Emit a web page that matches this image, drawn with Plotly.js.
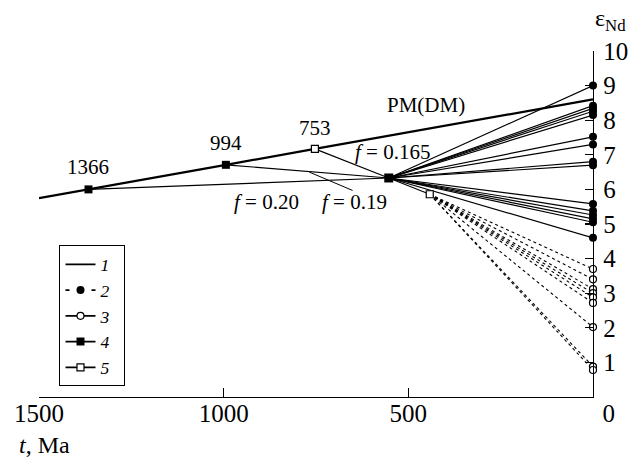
<!DOCTYPE html>
<html>
<head>
<meta charset="utf-8">
<script src="https://cdn.plot.ly/plotly-3.0.1.min.js"></script>
<style>
html,body{margin:0;padding:0;background:#fff;}
#chart{width:638px;height:457px;}
#chart svg text{font-family:"Liberation Serif","Times New Roman",Tinos,"DejaVu Serif",serif !important;}
</style>
</head>
<body>
<div id="chart"></div>
<script>
// PM(DM) evolution line (t in Ma, eps Nd)
const pmT = [1500, 1366, 994, 753, 0];
const pmE = [5.75, 6.00, 6.71, 7.17, 8.60];
// dated points on the PM line
const ageT = [1366, 994, 753];
const ageE = [6.00, 6.71, 7.17];
const ageLabels = ['1366', '994', '753'];
// convergence node (type 4) and type 5 node
const nodeT = [553];
const nodeE = [6.33];
const node5T = [442];
const node5E = [5.86];
// present-day values (t = 0)
const solidEnd = [9.00, 8.42, 8.34, 8.26, 8.15, 7.52, 7.30, 6.80, 6.70, 5.58, 5.38, 5.26, 5.15, 5.05, 4.60];
const dashedEnd = [3.70, 3.40, 3.12, 3.00, 2.88, 2.72, 2.02, 0.88, 0.78];
// leader for f = 0.19
const leaderT = [768, 651];
const leaderE = [6.50, 5.97];
// axis ticks
const xTicks = [1500, 1000, 500, 0];
const xTickText = ['1500', '1000', '500', '\u00a0\u00a0\u00a0\u00a0\u00a00'];
const yTicks = [1, 2, 3, 4, 5, 6, 7, 8, 9, 10];
const legendNames = ['1', '2', '3', '4', '5'];

const serif = "Liberation Serif";

function fan(t0, e0, ends) {
  const x = [], y = [];
  ends.forEach(e => { x.push(t0, 0, null); y.push(e0, e, null); });
  return {x, y};
}
const solidFan = fan(nodeT[0], nodeE[0], solidEnd);
const dashFan = fan(node5T[0], node5E[0], dashedEnd);
const feeders = {x: [], y: []};
ageT.forEach((t, i) => { feeders.x.push(t, nodeT[0], null); feeders.y.push(ageE[i], nodeE[0], null); });

const traces = [
  {x: feeders.x, y: feeders.y, mode: 'lines', line: {color: '#000', width: 1.2}, showlegend: false, hoverinfo: 'skip'},
  {x: leaderT, y: leaderE, mode: 'lines', line: {color: '#000', width: 1}, showlegend: false},
  {x: solidFan.x, y: solidFan.y, mode: 'lines', line: {color: '#000', width: 1.2}, showlegend: false},
  {x: [nodeT[0], node5T[0]], y: [nodeE[0], node5E[0]], mode: 'lines', line: {color: '#000', width: 1.2}, showlegend: false},
  {x: dashFan.x, y: dashFan.y, mode: 'lines', line: {color: '#000', width: 1.1, dash: '3px,3px'}, showlegend: false},
  {x: pmT, y: pmE, mode: 'lines', line: {color: '#000', width: 2.2}, showlegend: false},
  {x: ageT.slice(0, 2), y: ageE.slice(0, 2), mode: 'markers', marker: {symbol: 'square', size: 8, color: '#000'}, showlegend: false, cliponaxis: false},
  {x: ageT.slice(2), y: ageE.slice(2), mode: 'markers', marker: {symbol: 'square', size: 7, color: '#fff', line: {color: '#000', width: 1.2}}, showlegend: false, cliponaxis: false},
  {x: nodeT, y: nodeE, mode: 'markers', marker: {symbol: 'square', size: 9, color: '#000'}, showlegend: false},
  {x: node5T, y: node5E, mode: 'markers', marker: {symbol: 'square', size: 7, color: '#fff', line: {color: '#000', width: 1.2}}, showlegend: false},
  {x: solidEnd.map(() => 0), y: solidEnd, mode: 'markers', marker: {symbol: 'circle', size: 8, color: '#000'}, showlegend: false, cliponaxis: false},
  {x: dashedEnd.map(() => 0), y: dashedEnd, mode: 'markers', marker: {symbol: 'circle', size: 7, color: '#fff', line: {color: '#000', width: 1.2}}, showlegend: false, cliponaxis: false},
  // legend entries
  {x: [null], y: [null], name: legendNames[0] + '\u00a0\u00a0', mode: 'lines', line: {color: '#000', width: 1.6}},
  {x: [null], y: [null], name: legendNames[1] + '\u00a0\u00a0', mode: 'lines+markers', line: {color: '#000', width: 1.6, dash: '4px,9px'}, marker: {symbol: 'circle', size: 8, color: '#000'}},
  {x: [null], y: [null], name: legendNames[2] + '\u00a0\u00a0', mode: 'lines+markers', line: {color: '#000', width: 1.6}, marker: {symbol: 'circle', size: 7, color: '#fff', line: {color: '#000', width: 1.2}}},
  {x: [null], y: [null], name: legendNames[3] + '\u00a0\u00a0', mode: 'lines+markers', line: {color: '#000', width: 1.6}, marker: {symbol: 'square', size: 8, color: '#000'}},
  {x: [null], y: [null], name: legendNames[4] + '\u00a0\u00a0', mode: 'lines+markers', line: {color: '#000', width: 1.6}, marker: {symbol: 'square', size: 7, color: '#fff', line: {color: '#000', width: 1.2}}}
];

const annFont = {family: serif, size: 21, color: '#000'};
const annotations = ageT.map((t, i) => ({
  x: t, y: ageE[i], text: ageLabels[i], showarrow: false, yshift: [22, 22, 21][i], font: annFont, xanchor: 'center', yanchor: 'middle'
}));
annotations.push(
  {x: 453, y: 8.43, text: 'PM(DM)', showarrow: false, font: annFont, xanchor: 'center', yanchor: 'middle'},
  {x: 543, y: 7.08, text: '<i>f</i> = 0.165', showarrow: false, font: annFont, xanchor: 'center', yanchor: 'middle'},
  {x: 646, y: 5.64, text: '<i>f</i> = 0.19', showarrow: false, font: annFont, xanchor: 'center', yanchor: 'middle'},
  {x: 884, y: 5.64, text: '<i>f</i> = 0.20', showarrow: false, font: annFont, xanchor: 'center', yanchor: 'middle'},
  {xref: 'paper', yref: 'paper', x: 1.031, y: 1.09, text: 'ε<sub>Nd</sub>', showarrow: false, font: {family: serif, size: 24, color: '#000'}, xanchor: 'center', yanchor: 'middle'},
  {xref: 'paper', yref: 'paper', x: -0.04, y: -0.139, text: '<i>t</i>, Ma', showarrow: false, font: {family: serif, size: 24, color: '#000'}, xanchor: 'left', yanchor: 'middle'}
);

const layout = {
  width: 638, height: 457,
  margin: {l: 39, r: 45, t: 51, b: 60, pad: 0},
  paper_bgcolor: '#fff', plot_bgcolor: '#fff',
  font: {family: serif, color: '#000'},
  xaxis: {
    range: [1500, 0], tickvals: xTicks, ticktext: xTickText, ticks: 'inside', ticklen: 9, tickwidth: 1.2, tickcolor: '#000',
    showline: true, linecolor: '#000', linewidth: 1.3, showgrid: false, zeroline: false, automargin: false,
    ticklabelstandoff: -6,
    tickfont: {family: serif, size: 25, color: '#000'}, fixedrange: true
  },
  yaxis: {
    range: [0, 10], side: 'right', tickvals: yTicks, ticks: 'inside', ticklen: 8, tickwidth: 1.2, tickcolor: '#000',
    showline: true, linecolor: '#000', linewidth: 1.3, showgrid: false, zeroline: false, automargin: false,
    ticklabelstandoff: 4,
    tickfont: {family: serif, size: 25, color: '#000'}, fixedrange: true
  },
  showlegend: true,
  legend: {
    x: 0.037, y: 0.438, xanchor: 'left', yanchor: 'top',
    bordercolor: '#000', borderwidth: 1, bgcolor: '#fff',
    font: {family: serif, size: 17.5, color: '#000', style: 'italic'},
    tracegroupgap: 0, itemwidth: 30
  },
  annotations: annotations
};

Plotly.newPlot('chart', traces, layout, {staticPlot: true, displayModeBar: false});
</script>
</body>
</html>
